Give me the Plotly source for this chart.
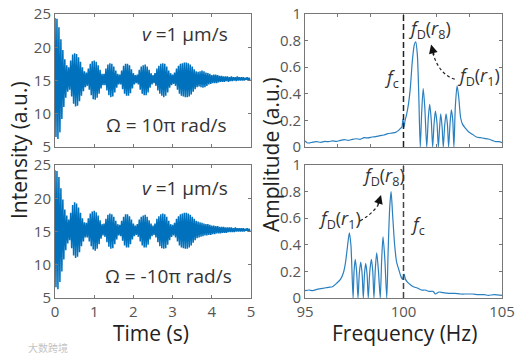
import plotly.graph_objects as go

# Envelope readings of the fast oscillation, every 0.05 s
top_hi = [24.4,24.3,23.0,21.2,19.6,18.2,17.3,17.0,18.0,18.9,19.1,19.0,18.5,17.8,17.0,16.4,16.2,16.8,17.5,17.9,
          18.0,17.8,17.3,16.6,16.0,16.0,16.8,17.4,17.6,17.5,17.1,16.5,16.0,15.9,16.5,17.2,17.5,17.5,17.3,16.7,
          16.1,15.8,15.9,16.6,17.1,17.3,17.4,17.1,16.6,16.1,15.8,16.1,16.8,17.2,17.5,17.6,17.5,17.1,16.5,16.1,
          15.9,16.2,16.8,17.2,17.5,17.6,17.7,17.7,17.6,17.4,17.1,16.7,16.4,16.3,16.4,16.5,16.4,16.2,16.1,16.0,
          15.8,15.9,15.9,15.8,15.7,15.7,15.6,15.6,15.6,15.5,15.6,15.5,15.5,15.6,15.5,15.5,15.5,15.4,15.5,15.4]
top_lo = [6.5,6.2,7.2,9.2,11.0,12.4,13.3,13.6,12.6,11.5,11.1,11.2,11.9,12.7,13.4,14.0,14.2,13.6,12.8,12.2,
          12.1,12.4,13.0,13.8,14.3,14.3,13.5,12.8,12.5,12.6,13.2,13.9,14.4,14.4,13.7,13.0,12.7,12.7,13.1,13.8,
          14.4,14.6,14.4,13.6,13.0,12.8,12.8,13.2,13.9,14.4,14.6,14.2,13.5,13.0,12.7,12.5,12.7,13.2,13.9,14.3,
          14.5,14.2,13.6,13.0,12.7,12.6,12.5,12.5,12.6,12.9,13.3,13.7,14.0,14.1,14.0,13.9,14.0,14.2,14.4,14.5,
          14.6,14.6,14.6,14.7,14.8,14.8,14.8,14.9,14.8,14.9,14.9,15.0,14.9,15.0,15.0,15.0,15.0,15.1,15.0,15.1]
bot_hi = [24.2,24.1,23.2,21.5,19.8,18.3,17.4,16.8,17.8,19.0,19.4,19.2,18.6,17.8,17.0,16.4,16.3,17.0,17.7,18.0,
          18.1,17.9,17.4,16.7,16.1,16.2,16.9,17.5,17.7,17.6,17.2,16.6,16.1,16.0,16.6,17.2,17.6,17.6,17.3,16.8,
          16.2,15.9,16.1,16.8,17.2,17.4,17.5,17.2,16.7,16.2,15.9,16.2,16.9,17.3,17.6,17.7,17.6,17.2,16.6,16.1,
          16.0,16.3,16.9,17.3,17.6,17.7,17.8,17.8,17.7,17.5,17.2,16.9,16.6,16.5,16.4,16.3,16.2,16.1,16.1,16.0,
          15.9,15.9,15.8,15.8,15.7,15.7,15.7,15.6,15.6,15.6,15.6,15.5,15.6,15.5,15.5,15.5,15.5,15.4,15.5,15.4]
bot_lo = [6.6,6.3,7.4,9.0,10.8,12.2,13.2,13.7,12.5,11.4,11.0,11.2,11.9,12.8,13.5,14.1,14.1,13.5,12.8,12.3,
          12.1,12.4,13.1,13.9,14.4,14.2,13.4,12.7,12.4,12.5,13.1,13.8,14.4,14.3,13.6,12.9,12.6,12.6,13.1,13.8,
          14.3,14.5,14.2,13.5,12.9,12.6,12.6,13.0,13.8,14.3,14.5,14.1,13.4,12.8,12.5,12.4,12.5,13.0,13.7,14.2,
          14.4,14.1,13.5,12.9,12.6,12.5,12.4,12.4,12.6,12.9,13.3,13.7,14.0,14.1,14.2,14.3,14.4,14.4,14.5,14.5,
          14.6,14.6,14.7,14.7,14.7,14.8,14.8,14.8,14.9,14.9,14.9,14.9,15.0,15.0,15.0,15.0,15.0,15.1,15.0,15.1]
sample_step = 0.05

top_f = [95,95.1,95.2,95.4,95.6,95.8,96,96.2,96.4,96.6,96.8,97,97.2,97.4,97.6,97.8,98,98.2,98.4,98.6,98.8,99,99.2,99.4,99.6,99.75,99.85,99.92,99.97,100.03,100.08,100.15,100.25,100.35,100.45,100.55,100.62,100.7,100.77,100.85,
         100.92,101.0,101.08,101.18,101.26,101.33,101.41,101.48,101.55,101.62,101.7,101.77,101.83,101.89,101.96,102.02,102.09,102.16,102.23,102.29,102.36,102.43,102.5,102.56,102.63,102.72,102.8,102.9,103.0,103.15,103.3,103.5,103.7,103.9,104.1,104.3,104.5,104.7,104.85,105]
top_a = [.045,.032,.03,.037,.04,.035,.042,.04,.046,.042,.05,.055,.05,.058,.062,.058,.07,.068,.075,.078,.085,.09,.1,.105,.11,.125,.14,.15,.21,.15,.2,.24,.32,.45,.65,.77,.79,.7,.42,0,
       .25,.44,.3,0,.22,.32,.2,0,.17,.27,.18,0,.14,.25,.15,0,.16,.25,.17,0,.17,.28,.2,0,.3,.46,.38,.22,.17,.14,.115,.095,.075,.07,.065,.06,.05,.04,.04,.032]
bot_f = [95,95.2,95.4,95.6,95.8,96,96.2,96.4,96.6,96.8,96.95,97.05,97.15,97.25,97.33,97.44,97.49,97.55,97.62,97.69,97.76,97.83,97.9,97.96,98.02,98.08,98.15,98.21,98.29,98.37,98.44,98.5,98.57,98.64,98.73,98.82,98.89,98.96,99.05,99.15,
         99.22,99.3,99.37,99.45,99.55,99.65,99.75,99.85,99.95,100.03,100.1,100.2,100.35,100.5,100.7,100.9,101.1,101.3,101.5,101.62,101.8,102,102.3,102.6,102.9,103.2,103.5,103.8,104.1,104.3,104.6,105]
bot_a = [.055,.06,.055,.065,.07,.075,.08,.085,.11,.14,.19,.26,.38,.49,.4,0,.2,.29,.2,0,.19,.27,.18,0,.18,.26,.18,0,.2,.29,.2,0,.22,.34,.2,0,.28,.46,.3,0,.35,.68,.8,.62,.4,.27,.22,.17,.14,.18,.14,.12,.1,.085,.075,.06,.06,.05,.05,.03,.045,.04,.035,.035,.03,.03,.03,.025,.025,.02,.025,.02]

tick_time = [0,1,2,3,4,5]
tick_intensity = [5,10,15,20,25]
tick_amp = [0,0.2,0.4,0.6,0.8,1]
amp_labels = ["0","0.2","0.4","0.6","0.8","1"]
tick_freq = [95,100,105]
minor_freq = [95,96.67,98.33,100,101.67,103.33,105]

BLUE = "#0072BD"
SPEC = "#2A7FBF"
FONT = "Open Sans, Noto Sans, sans-serif"


def zigzag(hi, lo):
    xs, ys = [], []
    for i, (h, l) in enumerate(zip(hi, lo)):
        xs += [i * sample_step, i * sample_step + sample_step / 2]
        ys += [h, l]
    return xs, ys


fig = go.Figure()
tx, ty = zigzag(top_hi, top_lo)
bx, by = zigzag(bot_hi, bot_lo)
time_line = dict(color=BLUE, width=1.5)
spec_line = dict(color=SPEC, width=1.2, shape="spline", smoothing=0.7)
fig.add_trace(go.Scatter(x=tx, y=ty, mode="lines", line=time_line, xaxis="x", yaxis="y"))
fig.add_trace(go.Scatter(x=top_f, y=top_a, mode="lines", line=spec_line, xaxis="x2", yaxis="y2"))
fig.add_trace(go.Scatter(x=bx, y=by, mode="lines", line=time_line, xaxis="x3", yaxis="y3"))
fig.add_trace(go.Scatter(x=bot_f, y=bot_a, mode="lines", line=spec_line, xaxis="x4", yaxis="y4"))

W, H = 515, 358
lx = [55 / W, 251 / W]
rx = [305 / W, 502 / W]
ty_dom = [1 - 147 / H, 1 - 14 / H]
by_dom = [1 - 298 / H, 1 - 165 / H]
ax = dict(showgrid=False, zeroline=False, showline=True, mirror="ticks", linecolor="#777777", linewidth=1,
          automargin=False,
          ticks="inside", ticklen=3, tickcolor="#777777", tickfont=dict(size=15, color="#555555", family=FONT))

fig.update_layout(
    template=None,
    width=W, height=H, autosize=False, showlegend=False, margin=dict(l=0, r=0, t=0, b=0),
    paper_bgcolor="white", plot_bgcolor="white", font=dict(family=FONT),
    xaxis=dict(ax, domain=lx, range=[0, 5], tickvals=tick_time, showticklabels=False, anchor="y"),
    yaxis=dict(ax, domain=ty_dom, range=[5, 25], tickvals=tick_intensity, anchor="x"),
    xaxis2=dict(ax, domain=rx, range=[95, 105], tickvals=minor_freq, showticklabels=False, anchor="y2"),
    yaxis2=dict(ax, domain=ty_dom, range=[0, 1], tickvals=tick_amp, ticktext=amp_labels, anchor="x2"),
    xaxis3=dict(ax, domain=lx, range=[0, 5], tickvals=tick_time, anchor="y3"),
    yaxis3=dict(ax, domain=by_dom, range=[5, 25], tickvals=tick_intensity, anchor="x3"),
    xaxis4=dict(ax, domain=rx, range=[95, 105], tickvals=tick_freq, anchor="y4"),
    yaxis4=dict(ax, domain=by_dom, range=[0, 1], tickvals=tick_amp, ticktext=amp_labels, anchor="x4"),
)
# dashed carrier line
dash = dict(color="#222222", width=1.5, dash="6px,3px")
fig.add_shape(type="line", x0=100, x1=100, y0=0, y1=1, xref="x2", yref="y2", line=dash)
fig.add_shape(type="line", x0=100, x1=100, y0=0, y1=1, xref="x4", yref="y4", line=dict(dash, color="#444444"))
# curved arrows
arrow = dict(color="#222222", width=1.2, dash="3px,2.5px")
fig.add_shape(type="path", path="M 102.6,0.51 Q 101.85,0.54 101.5,0.70", xref="x2", yref="y2", line=arrow)
fig.add_shape(type="path", path="M 97.8,0.58 Q 98.4,0.63 98.72,0.70", xref="x4", yref="y4", line=arrow)


def txt(x, y, s, size=19, color="#333333", angle=0, xref="paper", yref="paper", family=FONT):
    fig.add_annotation(x=x / W, y=1 - y / H, text=s, showarrow=False, xref=xref, yref=yref, textangle=angle,
                       font=dict(size=size, color=color, family=family), xanchor="center", yanchor="middle")


txt(185, 34, "<i>v</i> =1 µm/s")
txt(166, 125, "Ω = 10π rad/s")
txt(185, 188, "<i>v</i> =1 µm/s")
txt(168, 276, "Ω = -10π rad/s")
txt(151, 333, "Time (s)", 21, "#222222")
txt(404, 333, "Frequency (Hz)", 21, "#222222")
txt(19, 150, "Intensity (a.u.)", 21, "#222222", -90)
txt(271, 155, "Amplitude (a.u.)", 21, "#222222", -90)
txt(429, 30, "<i>f</i><sub>D</sub>(<i>r</i><sub>8</sub>)", 18)
txt(478, 76, "<i>f</i><sub>D</sub>(<i>r</i><sub>1</sub>)", 18)
txt(391, 79, "<i>f</i><sub>c</sub>", 18)
txt(383, 177, "<i>f</i><sub>D</sub>(<i>r</i><sub>8</sub>)", 18)
txt(339, 219, "<i>f</i><sub>D</sub>(<i>r</i><sub>1</sub>)", 18)
txt(417, 225, "<i>f</i><sub>c</sub>", 18)
txt(48, 347, "大数跨境", 10, "#c4c4c4", family="Noto Sans CJK SC")

# arrowheads
fig.add_annotation(x=101.4, y=0.77, ax=101.56, ay=0.68, xref="x2", yref="y2", axref="x2", ayref="y2", text="",
                   showarrow=True, arrowhead=2, arrowsize=1.1, arrowwidth=1.6, arrowcolor="#111111")
fig.add_annotation(x=98.86, y=0.775, ax=98.68, ay=0.69, xref="x4", yref="y4", axref="x4", ayref="y4", text="",
                   showarrow=True, arrowhead=2, arrowsize=1.1, arrowwidth=1.6, arrowcolor="#111111")

fig.write_html("out.html", config=dict(displayModeBar=False),
               post_script="document.body.style.margin='0';document.body.style.overflow='hidden';")
